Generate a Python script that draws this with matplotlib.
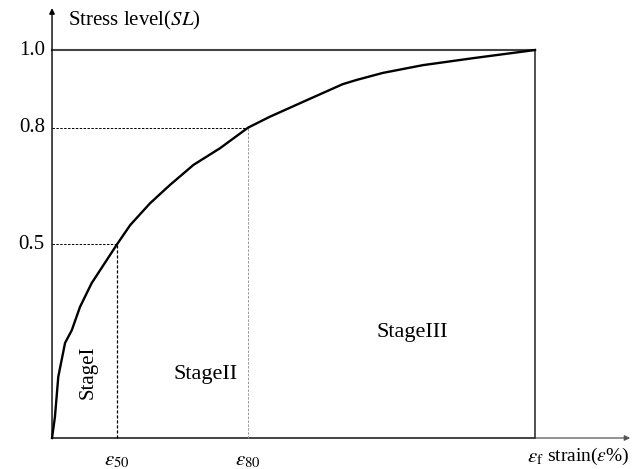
import matplotlib.pyplot as plt

plt.rcParams['font.family'] = ['Liberation Serif', 'DejaVu Serif']
plt.rcParams['mathtext.fontset'] = 'stix'

# strain normalised by failure strain (eps_f = 1), stress level SL
strain = [0.0, 0.006, 0.013, 0.027, 0.041, 0.058, 0.082, 0.135, 0.162, 0.203,
          0.244, 0.293, 0.348, 0.406, 0.451, 0.528, 0.602, 0.631, 0.685, 0.768,
          0.872, 1.0]
stress = [0.0, 0.054, 0.158, 0.245, 0.278, 0.338, 0.399, 0.5, 0.549, 0.605,
          0.652, 0.704, 0.747, 0.8, 0.828, 0.871, 0.912, 0.923, 0.941, 0.961,
          0.979, 1.0]

eps50 = 0.135
eps80 = 0.406
eps_f = 1.0
sl_ticks = [0.5, 0.8, 1.0]
sl_labels = ["0.5", "0.8", "1.0"]
stage_names = ["StageI", "StageII", "StageIII"]

fig = plt.figure(figsize=(6.33, 4.69), dpi=100)
ax = fig.add_axes([0, 0, 1, 1])
ax.set_xlim(-0.1077, 1.2029)
ax.set_ylim(-0.0799, 1.1289)
ax.axis("off")

# axes with arrows
ax.annotate("", xy=(0, 1.108), xytext=(0, 0),
            arrowprops=dict(arrowstyle="-|>", color="black", lw=1.0,
                            mutation_scale=8, shrinkA=0, shrinkB=0))
ax.plot([0, eps_f], [0, 0], color="#222222", lw=1.2)
ax.annotate("", xy=(1.197, 0), xytext=(eps_f, 0),
            arrowprops=dict(arrowstyle="-|>", color="#555555", lw=0.9,
                            mutation_scale=8, shrinkA=0, shrinkB=0))

# frame at failure
ax.plot([0, eps_f], [1.0, 1.0], color="#444444", lw=1.5)
ax.plot([eps_f, eps_f], [0, 1.0], color="#222222", lw=1.1)

# guide lines
ax.plot([0, eps50], [0.5, 0.5], color="black", lw=0.7, ls=(0, (2.5, 1.5)))
ax.plot([eps50, eps50], [0, 0.5], color="black", lw=0.9, ls=(0, (2.5, 1.5)))
ax.plot([0, eps80], [0.8, 0.8], color="black", lw=0.7, ls=(0, (2.5, 1.5)))
ax.plot([eps80, eps80], [0, 0.8], color="#999999", lw=0.7, ls=(0, (2.5, 1.5)))

# stress-strain curve
ax.plot(strain, stress, color="black", lw=1.7)

# y labels
for v, lab in zip(sl_ticks, sl_labels):
    ax.text(-0.015, v, lab, ha="right", va="center", fontsize=15)
ax.text(0.033, 1.075, r"Stress level($\mathit{SL}$)", ha="left", va="center",
        fontsize=15)

# x labels
ax.text(eps50, -0.058, r"$\varepsilon_{50}$", ha="center", va="center", fontsize=15)
ax.text(eps80, -0.058, r"$\varepsilon_{80}$", ha="center", va="center", fontsize=15)
ax.text(eps_f, -0.05, r"$\varepsilon_{\mathrm{f}}$", ha="center", va="center", fontsize=15)
ax.text(1.025, -0.048, r"strain($\varepsilon$%)", ha="left", va="center", fontsize=14)

# stage labels
ax.text(0.0745, 0.17, stage_names[0], rotation=90, ha="center", va="center",
        fontsize=15)
ax.text(0.317, 0.163, stage_names[1], ha="center", va="center", fontsize=16)
ax.text(0.745, 0.273, stage_names[2], ha="center", va="center", fontsize=16)

fig.savefig("out.png", dpi=100)
